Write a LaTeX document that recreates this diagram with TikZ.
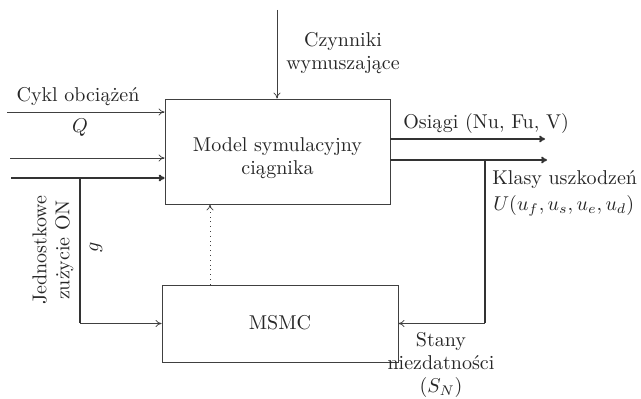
\documentclass[tikz,border=0pt]{standalone}
\usetikzlibrary{arrows.meta}
\begin{document}
\begin{tikzpicture}[x=0.5pt,y=-0.5pt,
  every node/.style={font=\fontsize{10}{11.5}\selectfont, text=black!85, inner sep=0pt},
  box/.style={draw=black!75, line width=0.4pt},
  thinline/.style={draw=black!75, line width=0.4pt},
  thickline/.style={draw=black!80, line width=1pt},
  arr/.style={-{To[length=3pt,width=3.5pt]}}]
\useasboundingbox (0,0) rectangle (641,399);
\node[box, minimum width=112.5pt, minimum height=52.5pt] (top) at (277.5,151.5) {};
\node[align=center] (toptext) at (277.5,158) {Model symulacyjny\\ciągnika};
\node[box, minimum width=118pt, minimum height=38.5pt] (bot) at (280,323.5) {};
\node (msmc) at (280,323) {MSMC};
% inputs
\coordinate (i1) at (7,112);
\coordinate (i2) at (10,158);
\coordinate (i3) at (11,178);
\coordinate (j) at (80,178);
\draw[thinline,arr] (i1) -- (i1 -| top.west);
\draw[thinline,arr] (i2) -- (i2 -| top.west);
\draw[thickline,arr] (i3) -- (i3 -| top.west);
\draw[thickline] (j) -- (j |- bot.west);
\draw[thinline,arr] (j |- bot.west) -- (bot.west);
% top
\coordinate (t) at (277,10);
\draw[thinline,arr] (t) -- (t |- top.north);
% dotted
\coordinate (d) at (210,0);
\draw[thinline,dotted,arr] (d |- bot.north) -- (d |- top.south);
% outputs
\coordinate (o1) at (545,139);
\coordinate (o2) at (547,160);
\coordinate (k) at (485,160);
\draw[thickline,arr] (o1 -| top.east) -- (o1);
\draw[thickline,arr] (o2 -| top.east) -- (o2);
\draw[thickline] (k) -- (k |- bot.east);
\draw[thinline,arr] (k |- bot.east) -- (bot.east);
% labels
\node (l1) at (78,97) {Cykl obciążeń};
\node (lq) at (80,128) {$Q$};
\node[align=center] (l2) at (343,53) {Czynniki\\wymuszające};
\node[anchor=west] (l3) at (403,124) {Osiągi (Nu, Fu, V)};
\node[anchor=west] (l4) at (492,180) {Klasy uszkodzeń};
\node[anchor=west] (l5) at (493,206) {$U(u_f,u_s,u_e,u_d)$};
\node[align=center] (l6) at (441,365) {Stany\\niezdatności\\$(S_N)$};
\node[align=center, rotate=90] (l7) at (53,250) {Jednostkowe\\zużycie ON};
\node[rotate=90] (lg) at (96,247) {$g$};
\end{tikzpicture}
\end{document}
